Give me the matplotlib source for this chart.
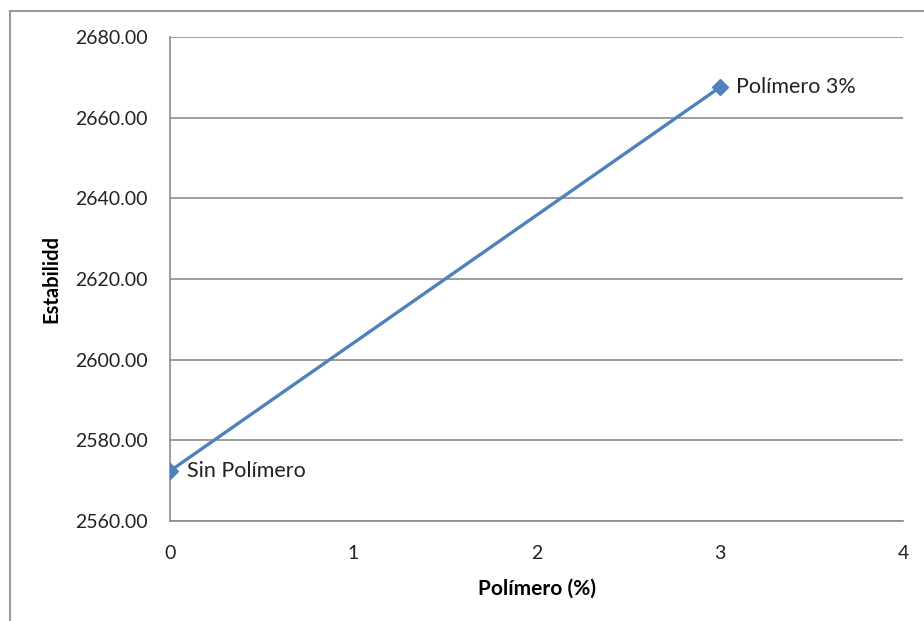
"""Estabilidad frente a porcentaje de polímero."""
import matplotlib
matplotlib.use("Agg")
import matplotlib.pyplot as plt
from matplotlib.lines import Line2D
from matplotlib.ticker import FormatStrFormatter

polimero = [0, 3]
estabilidad = [2572.4, 2667.5]
etiquetas = ["Sin Polímero", "Polímero 3%"]

plt.rcParams["font.family"] = ["Lato", "DejaVu Sans"]

fig = plt.figure(figsize=(9.24, 6.21), dpi=100)
ax = fig.add_axes([170 / 924, 1 - 521 / 621, 733 / 924, 484 / 621])

ax.plot(polimero, estabilidad, color="#4F81BD", linewidth=2.4,
        marker="D", markersize=8, zorder=3)
for x, y, t in zip(polimero, estabilidad, etiquetas):
    ax.annotate(t, (x, y), xytext=(12, 0), textcoords="offset points",
                va="center", ha="left", fontsize=15.5, color="#222222")

ax.set_xlim(0, 4)
ax.set_ylim(2560, 2680)
ax.set_xticks([0, 1, 2, 3, 4])
ax.set_yticks(range(2560, 2681, 20))
ax.yaxis.set_major_formatter(FormatStrFormatter("%.2f"))
ax.tick_params(length=0, labelsize=14, colors="#222222")
ax.tick_params(axis="x", pad=17)
ax.tick_params(axis="y", pad=16)
ax.grid(axis="y", color="#8c8c8c", linewidth=1.2)
ax.set_axisbelow(True)
for s in ["top", "right"]:
    ax.spines[s].set_visible(False)
for s in ["left", "bottom"]:
    ax.spines[s].set_color("#8c8c8c")
    ax.spines[s].set_linewidth(1.2)

ax.set_xlabel("Polímero (%)", fontsize=15, fontweight="bold", labelpad=12)
ax.set_ylabel("Estabilidd", fontsize=14.5, fontweight="bold", labelpad=10)

# marco exterior del gráfico
fig.add_artist(Line2D([10 / 924, 10 / 924], [0, 1 - 11 / 621],
                      transform=fig.transFigure, color="#9a9a9a", lw=1.5))
fig.add_artist(Line2D([10 / 924, 1], [1 - 11 / 621, 1 - 11 / 621],
                      transform=fig.transFigure, color="#9a9a9a", lw=1.5))

fig.savefig("out.png", dpi=100)
